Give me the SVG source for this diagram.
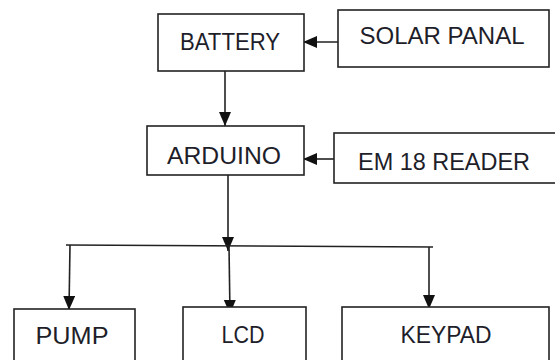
<svg xmlns="http://www.w3.org/2000/svg" width="555" height="360" viewBox="0 0 555 360">
<style>
.box{fill:#fff;stroke:#222;stroke-width:1.6}
.lbl{font-family:"Liberation Sans",Arial,sans-serif;font-size:24px;fill:#1e1e2a;text-anchor:middle}
.ln{fill:none;stroke:#222;stroke-width:1.6}
</style>
<defs>
<marker id="ah" markerUnits="userSpaceOnUse" markerWidth="16" markerHeight="14" refX="14" refY="6" orient="auto">
<path d="M0,0 L14,6 L0,12 Z" fill="#111"/>
</marker>
</defs>
<rect width="555" height="360" fill="#fff"/>
<g id="connectors">
<line class="ln" x1="225" y1="71" x2="225" y2="126" marker-end="url(#ah)"/>
<line class="ln" x1="338" y1="42" x2="303" y2="42" marker-end="url(#ah)"/>
<line class="ln" x1="334" y1="159" x2="303" y2="159" marker-end="url(#ah)"/>
<line class="ln" x1="228" y1="175" x2="228" y2="251" marker-end="url(#ah)"/>
<polyline class="ln" points="66,245 433,247"/>
<line class="ln" x1="229" y1="246" x2="230" y2="314" marker-end="url(#ah)"/>
<line class="ln" x1="70" y1="245" x2="69" y2="310" marker-end="url(#ah)"/>
<line class="ln" x1="429" y1="247" x2="429" y2="309" marker-end="url(#ah)"/>
</g>
<g id="battery">
<rect class="box" x="158" y="14" width="146" height="57"/>
<text class="lbl" x="230" y="50" textLength="100" lengthAdjust="spacingAndGlyphs">BATTERY</text>
</g>
<g id="solar">
<rect class="box" x="338" y="10" width="211" height="57"/>
<text class="lbl" x="442" y="44" textLength="165" lengthAdjust="spacingAndGlyphs">SOLAR PANAL</text>
</g>
<g id="arduino">
<rect class="box" x="147" y="126" width="157" height="49"/>
<text class="lbl" x="224" y="164" textLength="114" lengthAdjust="spacingAndGlyphs">ARDUINO</text>
</g>
<g id="em18">
<rect class="box" x="334" y="133" width="230" height="50"/>
<text class="lbl" x="444" y="170" textLength="172" lengthAdjust="spacingAndGlyphs">EM 18 READER</text>
</g>
<g id="pump">
<rect class="box" x="14" y="309" width="121" height="60"/>
<text class="lbl" x="72" y="344" textLength="73" lengthAdjust="spacingAndGlyphs">PUMP</text>
</g>
<g id="lcd">
<rect class="box" x="183" y="307" width="123" height="60"/>
<text class="lbl" x="243" y="343" textLength="43" lengthAdjust="spacingAndGlyphs">LCD</text>
</g>
<g id="keypad">
<rect class="box" x="342" y="307" width="207" height="60"/>
<text class="lbl" x="446" y="343" textLength="91" lengthAdjust="spacingAndGlyphs">KEYPAD</text>
</g>
</svg>
